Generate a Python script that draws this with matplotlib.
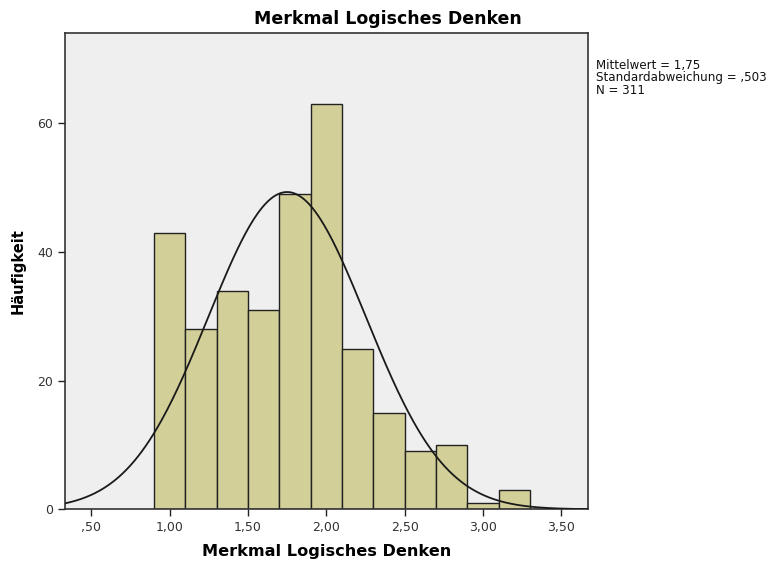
import numpy as np
import matplotlib.pyplot as plt

# Histogram data (bin edges width 0.2, from 0.9 to 3.3)
bin_left = [0.9, 1.1, 1.3, 1.5, 1.7, 1.9, 2.1, 2.3, 2.5, 2.7, 2.9, 3.1]
counts = [43, 28, 34, 31, 49, 63, 25, 15, 9, 10, 1, 3]
bin_width = 0.2

mean = 1.75
sd = 0.503
n = 311

x_ticks = [0.5, 1.0, 1.5, 2.0, 2.5, 3.0, 3.5]
x_ticklabels = [",50", "1,00", "1,50", "2,00", "2,50", "3,00", "3,50"]
y_ticks = [0, 20, 40, 60]

plt.rcParams['font.family'] = ['DejaVu Sans']

fig = plt.figure(figsize=(7.75, 5.68), dpi=100)
ax = fig.add_axes([0.0835, 0.1033, 0.675, 0.838])
ax.set_facecolor('#efefef')

ax.bar(bin_left, counts, width=bin_width, align='edge',
       color='#d3cf98', edgecolor='#222222', linewidth=1.0, zorder=2)

# normal curve scaled to the histogram
xs = np.linspace(0.33, 3.67, 400)
ys = n * bin_width * np.exp(-0.5 * ((xs - mean) / sd) ** 2) / (sd * np.sqrt(2 * np.pi))
ax.plot(xs, ys, color='#1a1a1a', linewidth=1.3, zorder=3)

ax.set_xlim(0.33, 3.67)
ax.set_ylim(0, 74)
ax.set_xticks(x_ticks)
ax.set_xticklabels(x_ticklabels)
ax.set_yticks(y_ticks)
ax.tick_params(direction='out', length=5, width=1, colors='#222222',
               labelsize=9, labelcolor='#333333')
for s in ax.spines.values():
    s.set_color('#333333')
    s.set_linewidth(1.2)

fig.text(0.5, 0.967, "Merkmal Logisches Denken", fontsize=12.5,
         fontweight='bold', ha='center', va='center')
ax.set_xlabel("Merkmal Logisches Denken", fontsize=11.6, fontweight='bold', labelpad=7)
ax.set_ylabel("Häufigkeit", fontsize=10.5, fontweight='bold', labelpad=8)

fig.text(0.769, 0.897,
         "Mittelwert = 1,75\nStandardabweichung = ,503\nN = 311",
         fontsize=8.6, va='top', ha='left', linespacing=0.95, color='#111111')

fig.savefig("out.png", dpi=100)
